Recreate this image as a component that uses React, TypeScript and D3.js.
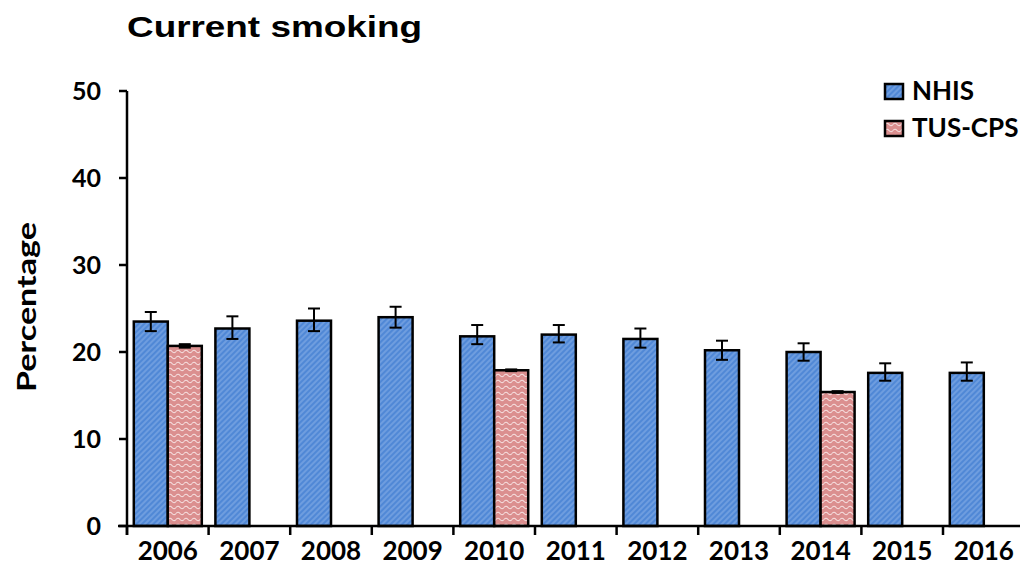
import React from "react";
import * as d3 from "d3";

const years = ["2006","2007","2008","2009","2010","2011","2012","2013","2014","2015","2016"];
const series = ["NHIS", "TUS-CPS"];
const nhis = [23.5, 22.7, 23.6, 24.0, 21.8, 22.0, 21.5, 20.2, 20.0, 17.6, 17.6];
const nhisLow = [22.4, 21.5, 22.4, 22.8, 20.9, 21.1, 20.5, 19.1, 19.0, 16.7, 16.7];
const nhisHigh = [24.6, 24.1, 25.0, 25.2, 23.1, 23.1, 22.7, 21.3, 21.0, 18.7, 18.8];
const tus: (number | null)[] = [20.7, null, null, null, 17.9, null, null, null, 15.4, null, null];
const tusLow: (number | null)[] = [20.5, null, null, null, 17.8, null, null, null, 15.3, null, null];
const tusHigh: (number | null)[] = [20.9, null, null, null, 18.0, null, null, null, 15.5, null, null];
const yTicks = [0, 10, 20, 30, 40, 50];

const W = 1020, H = 579;
const LEFT = 127, BOTTOM = 526, TOP = 91, CAT = 81.6;

export default function App() {
  const y = d3.scaleLinear().domain([0, 50]).range([BOTTOM, TOP]);
  const x0 = d3.scaleBand<string>().domain(years).range([LEFT, LEFT + CAT * years.length]).padding(0);
  const x1 = d3.scaleBand<string>().domain(series).range([0, x0.bandwidth()]).paddingInner(0).paddingOuter(0.2);
  const bw = x1.bandwidth();
  const fill = (s: string) => (s === "NHIS" ? "url(#hatchBlue)" : "url(#wavePink)");
  const capW = 12;

  type Bar = { year: string; s: string; v: number; lo: number; hi: number };
  const bars: Bar[] = [];
  years.forEach((yr, i) => {
    bars.push({ year: yr, s: "NHIS", v: nhis[i], lo: nhisLow[i], hi: nhisHigh[i] });
    if (tus[i] != null) bars.push({ year: yr, s: "TUS-CPS", v: tus[i] as number, lo: tusLow[i] as number, hi: tusHigh[i] as number });
  });

  const font = "Lato, 'Open Sans', sans-serif";

  return (
    <svg width={W} height={H} style={{ position: "absolute", left: 0, top: 0, background: "#fff" }}>
      <defs>
        <pattern id="hatchBlue" patternUnits="userSpaceOnUse" width={4} height={4} patternTransform="rotate(45)">
          <rect width={4} height={4} fill="#5088d6" />
          <line x1={1} y1={0} x2={1} y2={4} stroke="#8cb2e8" strokeWidth={1} />
        </pattern>
        <pattern id="wavePink" patternUnits="userSpaceOnUse" width={8} height={6}>
          <rect width={8} height={6} fill="#db8f8f" />
          <path d="M0 3.5 Q2 1 4 3.5 T8 3.5" fill="none" stroke="#f6e0e0" strokeWidth={1.1} />
        </pattern>
      </defs>

      <text x={127} y={37} fontFamily="'Liberation Sans', Arial, sans-serif" fontWeight="bold" fontSize={30}
        textLength={295} lengthAdjust="spacingAndGlyphs">Current smoking</text>

      {bars.map((b, i) => {
        const bx = (x0(b.year) as number) + (x1(b.s) as number);
        const cx = bx + bw / 2;
        return (
          <g key={i}>
            <rect x={bx} y={y(b.v)} width={bw} height={BOTTOM - y(b.v)} fill={fill(b.s)} stroke="#000" strokeWidth={2.5} />
            <line x1={cx} x2={cx} y1={y(b.hi)} y2={y(b.lo)} stroke="#000" strokeWidth={2} />
            <line x1={cx - capW / 2} x2={cx + capW / 2} y1={y(b.hi)} y2={y(b.hi)} stroke="#000" strokeWidth={2} />
            <line x1={cx - capW / 2} x2={cx + capW / 2} y1={y(b.lo)} y2={y(b.lo)} stroke="#000" strokeWidth={2} />
          </g>
        );
      })}

      {/* y axis */}
      <line x1={LEFT} x2={LEFT} y1={TOP} y2={BOTTOM + 9} stroke="#000" strokeWidth={2.5} />
      {yTicks.map((t) => (
        <g key={t}>
          <line x1={LEFT - 8} x2={LEFT} y1={y(t)} y2={y(t)} stroke="#000" strokeWidth={2.5} />
          <text x={101} y={y(t)} dy="0.36em" textAnchor="end" fontFamily={font} fontWeight="bold" fontSize={25}>{t}</text>
        </g>
      ))}

      {/* x axis */}
      <line x1={118} x2={W} y1={BOTTOM} y2={BOTTOM} stroke="#000" strokeWidth={2.5} />
      {years.map((yr) => (
        <g key={yr}>
          <line x1={x0(yr) as number} x2={x0(yr) as number} y1={BOTTOM} y2={BOTTOM + 9} stroke="#000" strokeWidth={2.5} />
          <text x={(x0(yr) as number) + x0.bandwidth() / 2} y={560} textAnchor="middle" fontFamily={font} fontWeight="bold" fontSize={26}>{yr}</text>
        </g>
      ))}

      <text transform="translate(36,307) rotate(-90)" textAnchor="middle" fontFamily={font} fontWeight="bold" fontSize={26}
        textLength={170} lengthAdjust="spacingAndGlyphs">Percentage</text>

      {/* legend */}
      {series.map((s, i) => (
        <g key={s} transform={`translate(885,${84 + i * 37})`}>
          <rect x={0} y={0} width={18} height={15} fill={fill(s)} stroke="#000" strokeWidth={2.5} />
          <text x={27} y={16} fontFamily={font} fontWeight="bold" fontSize={26}>{s}</text>
        </g>
      ))}
    </svg>
  );
}
